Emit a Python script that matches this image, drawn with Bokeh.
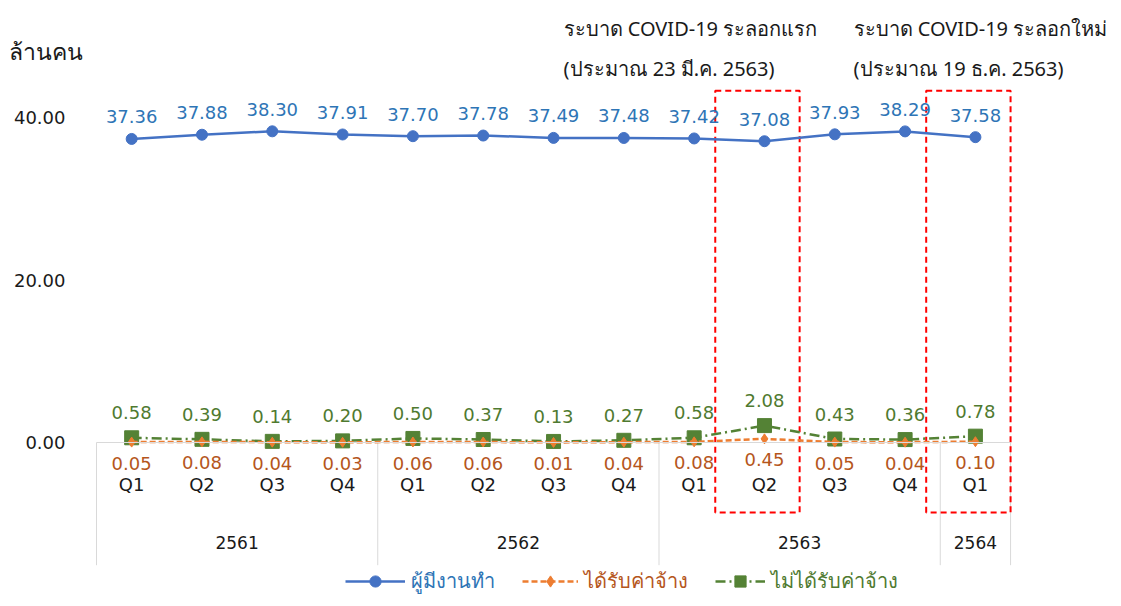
from bokeh.plotting import figure
from bokeh.models import (Range1d, FixedTicker, LinearAxis, Label,
                          Legend, LegendItem, NumeralTickFormatter)
from bokeh.core.properties import value
from bokeh.embed import file_html
from bokeh.resources import INLINE

# ---- data ----
years = ["2561"] * 4 + ["2562"] * 4 + ["2563"] * 4 + ["2564"]
quarters = ["Q1", "Q2", "Q3", "Q4"] * 3 + ["Q1"]
year_labels = ["2561", "2562", "2563", "2564"]
employed = [37.36, 37.88, 38.30, 37.91, 37.70, 37.78, 37.49, 37.48, 37.42, 37.08, 37.93, 38.29, 37.58]
paid = [0.05, 0.08, 0.04, 0.03, 0.06, 0.06, 0.01, 0.04, 0.08, 0.45, 0.05, 0.04, 0.10]
unpaid = [0.58, 0.39, 0.14, 0.20, 0.50, 0.37, 0.13, 0.27, 0.58, 2.08, 0.43, 0.36, 0.78]
y_ticks = [0, 20, 40]
highlight = [("2563", "Q2"), ("2564", "Q1")]
series_names = ["ผู้มีงานทำ", "ได้รับค่าจ้าง", "ไม่ได้รับค่าจ้าง"]
y_title = "ล้านคน"
notes = [("ระบาด COVID-19 ระลอกแรก", "(ประมาณ 23 มี.ค. 2563)"),
         ("ระบาด COVID-19 ระลอกใหม่", "(ประมาณ 19 ธ.ค. 2563)")]

FONT_S = "DejaVu Sans"
TFONT_S = "Noto Sans"
FONT = value(FONT_S)
BLUE, ORANGE, GREEN = "#4472C4", "#ED7D31", "#548235"
BLUE_T, ORANGE_T, GREEN_T = "#2E75B6", "#B5561C", "#4F7A30"
TXT = "#1a1a1a"

# category positions (one slot per quarter)
xi = list(range(len(quarters)))
keys = list(zip(years, quarters))
group_centers = [sum(i for i in xi if years[i] == y) / years.count(y) for y in year_labels]
bounds = [-0.5] + [i - 0.5 for i in xi[1:] if years[i] != years[i - 1]] + [xi[-1] + 0.5]
hl_idx = [keys.index(h) for h in highlight]

W, H = 1113, 598
p = figure(width=W, height=H,
           x_range=Range1d(-1.8654, 13.964), y_range=Range1d(-19.2, 54.4),
           output_backend="svg", toolbar_location=None,
           min_border_left=0, min_border_right=0, min_border_top=0, min_border_bottom=0,
           x_axis_location=None)
p.outline_line_color = None
p.xgrid.visible = False
p.ygrid.visible = False
p.background_fill_color = "white"

# y axis, pinned to left edge of the category area
ya = p.yaxis[0]
ya.fixed_location = -0.5
ya.ticker = FixedTicker(ticks=y_ticks)
ya.formatter = NumeralTickFormatter(format="0.00")
ya.axis_line_color = None
ya.major_tick_line_color = None
ya.minor_tick_line_color = None
ya.major_tick_out = 0
ya.major_tick_in = 0
ya.major_label_standoff = 31
ya.major_label_text_font = FONT_S
ya.major_label_text_font_size = "18px"
ya.major_label_text_color = TXT

# quarter axis at y = 0
xa = LinearAxis(fixed_location=0, ticker=FixedTicker(ticks=xi),
                major_label_overrides={i: q for i, q in zip(xi, quarters)},
                bounds=(bounds[0], bounds[-1]))
xa.axis_line_color = "#D9D9D9"
xa.axis_line_width = 1
xa.major_tick_line_color = None
xa.minor_tick_line_color = None
xa.major_tick_out = 0
xa.major_tick_in = 0
xa.major_label_standoff = 31
xa.major_label_text_font = FONT_S
xa.major_label_text_font_size = "18px"
xa.major_label_text_color = TXT
p.add_layout(xa, "below")

# year axis (group labels)
ya2 = LinearAxis(fixed_location=0, ticker=FixedTicker(ticks=group_centers),
                 major_label_overrides={c: y for c, y in zip(group_centers, year_labels)})
ya2.axis_line_color = None
ya2.major_tick_line_color = None
ya2.minor_tick_line_color = None
ya2.major_tick_out = 0
ya2.major_tick_in = 0
ya2.major_label_standoff = 93
ya2.major_label_text_font = FONT_S
ya2.major_label_text_font_size = "17px"
ya2.major_label_text_color = TXT
p.add_layout(ya2, "below")

# group separators
p.segment(x0=bounds, x1=bounds, y0=[0] * len(bounds), y1=[-15.1] * len(bounds),
          line_color="#D9D9D9", line_width=1)

# highlight boxes
p.quad(left=[i - 0.7 for i in hl_idx], right=[i + 0.5 for i in hl_idx],
       top=[43.3] * len(hl_idx), bottom=[-8.6] * len(hl_idx), fill_color=None,
       line_color="#FF0000", line_dash="6 4", line_width=2)

# series
bl = p.line(xi, employed, line_color=BLUE, line_width=2.5)
bs = p.scatter(xi, employed, marker="circle", size=11, fill_color=BLUE, line_color=BLUE)
gl = p.line(xi, unpaid, line_color=GREEN, line_width=2.5, line_dash="10 4 2 4")
gs = p.scatter(xi, unpaid, marker="square", size=14, fill_color=GREEN, line_color=GREEN)
ol = p.line(xi, paid, line_color=ORANGE, line_width=2.5, line_dash="6 3")
os_ = p.scatter(xi, paid, marker="diamond", size=10, fill_color=ORANGE, line_color=ORANGE)

# data labels
p.text(xi, employed, text=[f"{v:.2f}" for v in employed], y_offset=-22,
       text_font=FONT, text_font_size="18px", text_color=BLUE_T,
       text_align="center", text_baseline="middle")
p.text(xi, unpaid, text=[f"{v:.2f}" for v in unpaid], y_offset=-25,
       text_font=FONT, text_font_size="18px", text_color=GREEN_T,
       text_align="center", text_baseline="middle")
p.text(xi, paid, text=[f"{v:.2f}" for v in paid], y_offset=21,
       text_font=FONT, text_font_size="18px", text_color=ORANGE_T,
       text_align="center", text_baseline="middle")

# titles / notes (screen units measured from the frame's bottom-left)
p.add_layout(Label(x=8, y=548, x_units="screen", y_units="screen", text=y_title,
                   text_font=TFONT_S, text_font_size="23px", text_color=TXT,
                   text_baseline="middle"))
for (l1, l2), sx in zip(notes, [563, 853]):
    p.add_layout(Label(x=sx, y=570, x_units="screen", y_units="screen", text=l1,
                       text_font=TFONT_S, text_font_size="20px", text_color=TXT,
                       text_baseline="middle"))
    p.add_layout(Label(x=sx, y=530, x_units="screen", y_units="screen", text=l2,
                       text_font=TFONT_S, text_font_size="20px", text_color=TXT,
                       text_baseline="middle"))

# legends
for name, rends, col, lx, gw in zip(series_names, [[bl, bs], [ol, os_], [gl, gs]],
                                    [BLUE_T, ORANGE_T, GREEN_T], [345, 522, 715], [60, 56, 50]):
    lg = Legend(items=[LegendItem(label=name, renderers=rends)], location=(lx, 1),
                orientation="horizontal", glyph_width=gw, glyph_height=28,
                label_standoff=6, label_height=28, padding=0, margin=0, spacing=0,
                label_text_color=col, label_text_font=TFONT_S, label_text_font_size="20px",
                background_fill_alpha=0, border_line_color=None)
    p.add_layout(lg, "center")

open("out.html", "w").write(file_html(p, INLINE))
